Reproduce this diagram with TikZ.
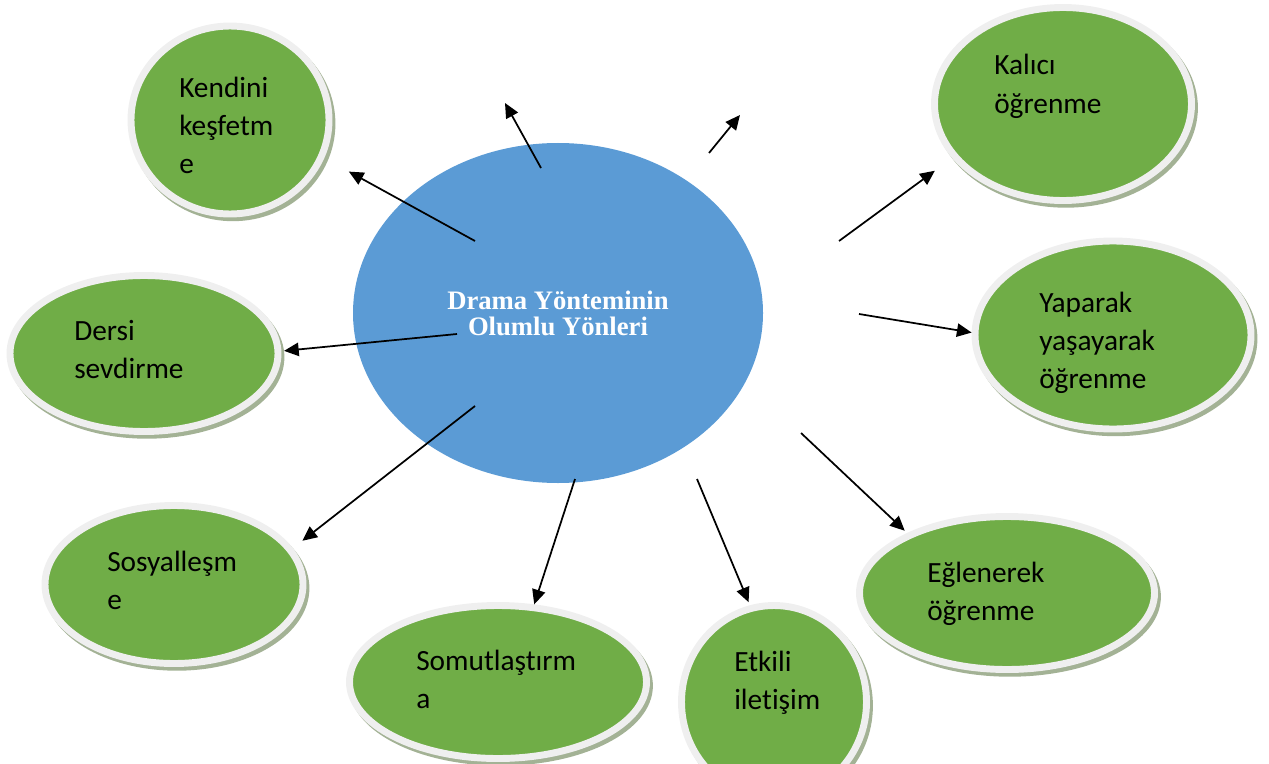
\documentclass[tikz,border=0pt]{standalone}
\usepackage{fontspec}
\setmainfont{Carlito}[Ligatures=NoCommon]
\newfontfamily\titlefont{Liberation Serif}
\usepackage{xcolor}
\definecolor{leafgreen}{HTML}{70AD47}
\definecolor{skyblue}{HTML}{5B9BD5}
\definecolor{rimgray}{HTML}{EFEFEF}
\definecolor{shadowgreen}{HTML}{A3B295}
\usepackage{tikz}
\usetikzlibrary{arrows.meta,shapes.geometric,shadows}

\tikzset{
  bubble/.style={ellipse, draw=rimgray, line width=5.2pt, fill=leafgreen,
    inner sep=0pt,
    drop shadow={shadow xshift=2.2pt, shadow yshift=-2.8pt, fill=shadowgreen,
      draw=shadowgreen, line width=5.2pt, opacity=1}},
  lbl/.style={anchor=base west, inner sep=0pt, text width=6cm, align=left,
    font=\fontsize{22}{28.5}\selectfont},
  arr/.style={-{Triangle[length=11pt,width=10pt]}, line width=1.3pt}
}

\begin{document}
\begin{tikzpicture}[x=0.75pt, y=-0.75pt]

  \clip (0,0) rectangle (1269,763);

  % centre
  \node[ellipse, fill=skyblue, minimum width=307.5pt, minimum height=255pt,
    inner sep=0pt, text=white, align=center,
    font=\titlefont\bfseries\fontsize{20}{19.5}\selectfont]
    (drama) at (558,313) {Drama Yönteminin\\Olumlu Yönleri};

  % outer bubbles
  \node[bubble, minimum width=148.5pt, minimum height=141pt]     (kend)   at (230,120)   {};
  \node[bubble, minimum width=192.75pt, minimum height=144.75pt] (kalici) at (1063,104)  {};
  \node[bubble, minimum width=201pt, minimum height=117pt]       (dersi)  at (144,353.5) {};
  \node[bubble, minimum width=207pt, minimum height=141pt]       (yapar)  at (1113,335)  {};
  \node[bubble, minimum width=193.5pt, minimum height=118.5pt]   (sosyal) at (174,584.5) {};
  \node[bubble, minimum width=222.75pt, minimum height=114.75pt] (somut)  at (498,682)   {};
  \node[bubble, minimum width=138.75pt, minimum height=144.75pt] (etkili) at (774,702)   {};
  \node[bubble, minimum width=221.25pt, minimum height=114.75pt] (eglen)  at (1007,593)  {};

  \node[lbl] (kend-t)   at (179,98)   {Kendini\\keşfetm\\e};
  \node[lbl] (kalici-t) at (994,75)   {Kalıcı\\öğrenme};
  \node[lbl] (dersi-t)  at (74,340)   {Dersi\\sevdirme};
  \node[lbl] (yapar-t)  at (1039,312) {Yaparak\\yaşayarak\\öğrenme};
  \node[lbl] (sosyal-t) at (107,571)  {Sosyalleşm\\e};
  \node[lbl] (somut-t)  at (416,670)  {Somutlaştırm\\a};
  \node[lbl] (etkili-t) at (734,671)  {Etkili\\iletişim};
  \node[lbl] (eglen-t)  at (927,582)  {Eğlenerek\\öğrenme};

  % arrows out of the centre
  \coordinate (k0) at (475,241);
  \coordinate (c0) at (839,241);
  \coordinate (y0) at (859,314);
  \coordinate (d0) at (457,334);
  \coordinate (s0) at (475,406);
  \coordinate (m0) at (575,479);
  \coordinate (e0) at (697,479);
  \coordinate (g0) at (801,433);
  \draw[arr, shorten >=21pt] (k0) -- (kend.-22);
  \draw[arr, shorten >=16pt] (c0) -- (kalici.206);
  \draw[arr] (y0) -- (yapar.179);
  \draw[arr, shorten >=2pt] (d0) -- (dersi.1.5);
  \draw[arr, shorten >=9pt] (s0) -- (sosyal.17);
  \draw[arr] (m0) -- (somut.65.6);
  \draw[arr, shorten >=2.5pt] (e0) -- (etkili.104.6);
  \draw[arr, shorten >=2.5pt] (g0) -- (eglen.149.6);

  % two loose arrows at the top
  \coordinate (u0) at (541,168);
  \coordinate (u1) at (505,103);
  \coordinate (v0) at (709,153);
  \coordinate (v1) at (740,115);
  \draw[arr] (u0) -- (u1);
  \draw[arr] (v0) -- (v1);
\end{tikzpicture}
\end{document}
